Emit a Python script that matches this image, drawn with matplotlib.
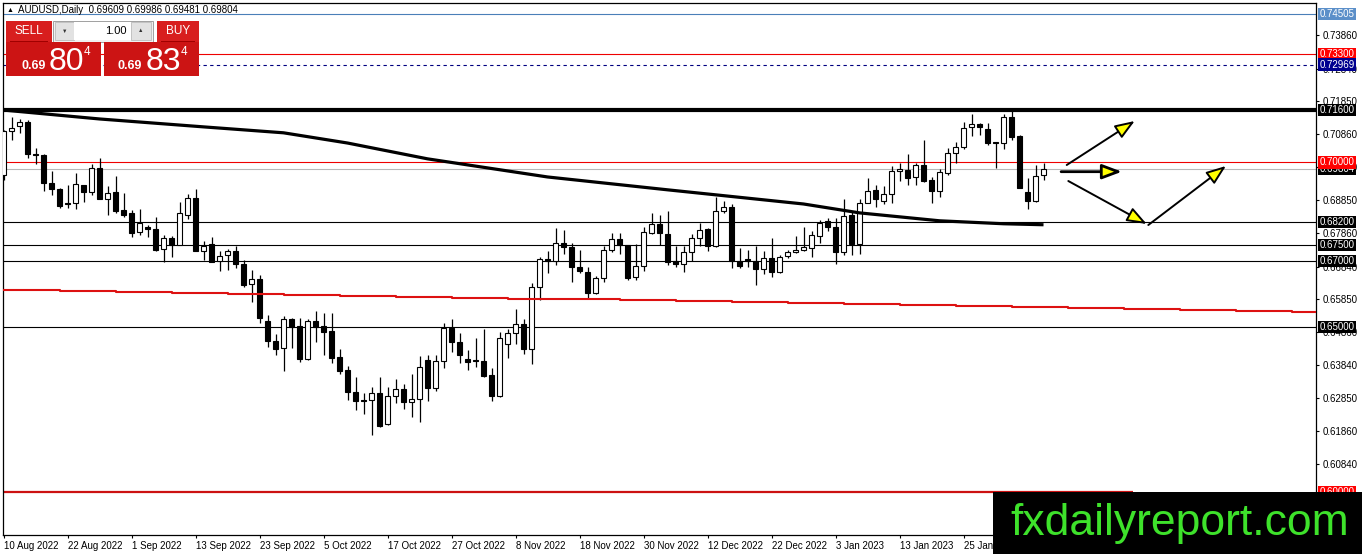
import matplotlib
matplotlib.use('Agg')
import matplotlib.pyplot as plt
from matplotlib.patches import Rectangle
import numpy as np

plt.rcParams['font.family'] = ['Liberation Sans', 'DejaVu Sans']

# daily AUDUSD candles (first bar = 10 Aug 2022)
opens = [0.6962, 0.7094, 0.7111, 0.7122, 0.7025, 0.7023, 0.6937, 0.6920, 0.6876, 0.6876,
         0.6932, 0.6909, 0.6983, 0.6890, 0.6910, 0.6856, 0.6846, 0.6788, 0.6805, 0.6797,
         0.6737, 0.6772, 0.6750, 0.6841, 0.6892, 0.6730, 0.6752, 0.6702, 0.6719, 0.6730,
         0.6692, 0.6631, 0.6646, 0.6519, 0.6457, 0.6437, 0.6526, 0.6504, 0.6404, 0.6519,
         0.6504, 0.6489, 0.6409, 0.6371, 0.6303, 0.6279, 0.6278, 0.6300, 0.6207, 0.6290,
         0.6313, 0.6272, 0.6282, 0.6401, 0.6315, 0.6398, 0.6499, 0.6455, 0.6403, 0.6399,
         0.6398, 0.6356, 0.6290, 0.6449, 0.6482, 0.6509, 0.6434, 0.6622, 0.6706, 0.6702,
         0.6755, 0.6743, 0.6682, 0.6667, 0.6605, 0.6649, 0.6733, 0.6767, 0.6750, 0.6651,
         0.6687, 0.6787, 0.6814, 0.6782, 0.6701, 0.6691, 0.6728, 0.6770, 0.6797, 0.6747,
         0.6854, 0.6864, 0.6702, 0.6707, 0.6702, 0.6676, 0.6710, 0.6669, 0.6717, 0.6728,
         0.6733, 0.6740, 0.6777, 0.6821, 0.6804, 0.6727, 0.6841, 0.6753, 0.6878, 0.6915,
         0.6884, 0.6904, 0.6974, 0.6977, 0.6955, 0.6993, 0.6947, 0.6912, 0.6967, 0.7030,
         0.7048, 0.7107, 0.7116, 0.7101, 0.7062, 0.7060, 0.7137, 0.7081, 0.6910, 0.6884,
         0.69609]
highs = [0.7097, 0.7139, 0.7131, 0.7129, 0.7043, 0.7025, 0.6974, 0.6922, 0.6932, 0.6967,
         0.6932, 0.6996, 0.7013, 0.6929, 0.6959, 0.6907, 0.6856, 0.6858, 0.6811, 0.6834,
         0.6780, 0.6777, 0.6881, 0.6905, 0.6919, 0.6763, 0.6773, 0.6730, 0.6738, 0.6748,
         0.6704, 0.6674, 0.6659, 0.6537, 0.6479, 0.6535, 0.6528, 0.6528, 0.6525, 0.6550,
         0.6543, 0.6543, 0.6434, 0.6383, 0.6349, 0.6300, 0.6318, 0.6349, 0.6320, 0.6344,
         0.6328, 0.6358, 0.6413, 0.6416, 0.6416, 0.6514, 0.6525, 0.6482, 0.6431, 0.6467,
         0.6494, 0.6376, 0.6487, 0.6494, 0.6555, 0.6525, 0.6634, 0.6714, 0.6730, 0.6801,
         0.6795, 0.6755, 0.6735, 0.6684, 0.6656, 0.6745, 0.6785, 0.6785, 0.6750, 0.6753,
         0.6805, 0.6848, 0.6841, 0.6854, 0.6748, 0.6747, 0.6783, 0.6816, 0.6802, 0.6895,
         0.6884, 0.6874, 0.6740, 0.6735, 0.6747, 0.6730, 0.6770, 0.6720, 0.6735, 0.6778,
         0.6805, 0.6793, 0.6826, 0.6831, 0.6831, 0.6889, 0.6851, 0.6889, 0.6952, 0.6932,
         0.6929, 0.6989, 0.6999, 0.7025, 0.6999, 0.7068, 0.6955, 0.6979, 0.7045, 0.7061,
         0.7124, 0.7146, 0.7121, 0.7121, 0.7063, 0.7147, 0.7159, 0.7084, 0.6952, 0.6993,
         0.69986]
lows = [0.6947, 0.7068, 0.7089, 0.7013, 0.6995, 0.6912, 0.6902, 0.6861, 0.6863, 0.6858,
        0.6881, 0.6902, 0.6890, 0.6841, 0.6848, 0.6836, 0.6773, 0.6780, 0.6775, 0.6730,
        0.6699, 0.6714, 0.6750, 0.6828, 0.6730, 0.6704, 0.6699, 0.6672, 0.6674, 0.6679,
        0.6623, 0.6576, 0.6514, 0.6440, 0.6416, 0.6366, 0.6437, 0.6393, 0.6401, 0.6454,
        0.6416, 0.6391, 0.6358, 0.6278, 0.6249, 0.6237, 0.6172, 0.6197, 0.6204, 0.6270,
        0.6252, 0.6229, 0.6211, 0.6275, 0.6305, 0.6376, 0.6426, 0.6391, 0.6369, 0.6378,
        0.6350, 0.6275, 0.6288, 0.6408, 0.6449, 0.6418, 0.6388, 0.6583, 0.6666, 0.6689,
        0.6723, 0.6636, 0.6664, 0.6585, 0.6600, 0.6636, 0.6727, 0.6723, 0.6644, 0.6644,
        0.6672, 0.6783, 0.6750, 0.6689, 0.6684, 0.6669, 0.6702, 0.6747, 0.6730, 0.6743,
        0.6846, 0.6679, 0.6679, 0.6684, 0.6629, 0.6661, 0.6652, 0.6664, 0.6711, 0.6725,
        0.6730, 0.6713, 0.6757, 0.6793, 0.6691, 0.6720, 0.6720, 0.6723, 0.6876, 0.6864,
        0.6874, 0.6878, 0.6944, 0.6932, 0.6932, 0.6940, 0.6876, 0.6896, 0.6962, 0.6998,
        0.7040, 0.7081, 0.7083, 0.7053, 0.6984, 0.7040, 0.7068, 0.6922, 0.6858, 0.6881,
        0.69481]
closes = [0.7094, 0.7106, 0.7124, 0.7025, 0.7023, 0.6937, 0.6919, 0.6868, 0.6874, 0.6934,
          0.6909, 0.6983, 0.6890, 0.6907, 0.6854, 0.6841, 0.6787, 0.6816, 0.6797, 0.6735,
          0.6772, 0.6750, 0.6846, 0.6892, 0.6730, 0.6748, 0.6699, 0.6717, 0.6730, 0.6691,
          0.6629, 0.6646, 0.6528, 0.6457, 0.6434, 0.6525, 0.6502, 0.6404, 0.6519, 0.6502,
          0.6487, 0.6408, 0.6366, 0.6302, 0.6275, 0.6277, 0.6300, 0.6199, 0.6292, 0.6312,
          0.6272, 0.6282, 0.6379, 0.6315, 0.6398, 0.6497, 0.6455, 0.6416, 0.6396, 0.6398,
          0.6353, 0.6290, 0.6467, 0.6484, 0.6509, 0.6434, 0.6622, 0.6707, 0.6702, 0.6755,
          0.6743, 0.6682, 0.6672, 0.6605, 0.6649, 0.6735, 0.6767, 0.6750, 0.6649, 0.6687,
          0.6788, 0.6814, 0.6787, 0.6699, 0.6691, 0.6728, 0.6770, 0.6795, 0.6747, 0.6854,
          0.6864, 0.6701, 0.6687, 0.6701, 0.6676, 0.6710, 0.6669, 0.6714, 0.6728, 0.6735,
          0.6742, 0.6780, 0.6816, 0.6804, 0.6727, 0.6839, 0.6753, 0.6876, 0.6912, 0.6889,
          0.6904, 0.6974, 0.6980, 0.6954, 0.6993, 0.6945, 0.6912, 0.6972, 0.7030, 0.7048,
          0.7106, 0.7116, 0.7107, 0.7060, 0.7060, 0.7137, 0.7078, 0.6922, 0.6884, 0.6960,
          0.69804]

date_labels = ['10 Aug 2022', '22 Aug 2022', '1 Sep 2022', '13 Sep 2022', '23 Sep 2022',
               '5 Oct 2022', '17 Oct 2022', '27 Oct 2022', '8 Nov 2022', '18 Nov 2022',
               '30 Nov 2022', '12 Dec 2022', '22 Dec 2022', '3 Jan 2023', '13 Jan 2023',
               '25 Jan 2023']

price_ticks = [0.73860, 0.72840, 0.71850, 0.70860, 0.69850, 0.68850, 0.67860, 0.66840,
               0.65850, 0.64860, 0.63840, 0.62850, 0.61860, 0.60840]

# slow moving average (black) and long one (red), sampled along the chart
ma_black_idx = [0, 12, 25, 35, 43, 53, 68, 83, 100, 107, 117, 125, 130]
ma_black_val = [0.7159, 0.7132, 0.7108, 0.7090, 0.7059, 0.7011, 0.6956, 0.6917, 0.6874,
                0.6847, 0.6823, 0.6814, 0.6811]
ma_red_idx = [0, 7, 14, 21, 28, 35, 42, 49, 56, 63, 70, 77, 84, 91, 98, 105, 112, 119,
              126, 133, 140, 147, 154, 161, 165]
ma_red_val = [0.6613, 0.6610, 0.6607, 0.6604, 0.6601, 0.6598, 0.6595, 0.6592, 0.6589,
              0.6587, 0.6585, 0.6582, 0.6579, 0.6576, 0.6573, 0.6570, 0.6567, 0.6564,
              0.6562, 0.6559, 0.6556, 0.6553, 0.6550, 0.6547, 0.6546]

# horizontal levels
levels = [0.74505, 0.73300, 0.72969, 0.71600, 0.70000, 0.69804, 0.68200, 0.67500, 0.67000, 0.65000]
level_color = ['#4a7fb8', '#ee0000', '#000080', 'black', '#ee0000', '#b8b8b8', 'black', 'black', 'black', 'black']
level_lw = [0.8, 0.8, 0.8, 3.0, 0.8, 0.8, 0.8, 0.8, 0.8, 0.8]
level_ls = ['-', '-', (0, (3, 3)), '-', '-', '-', '-', '-', '-', '-']
label_bg = ['#5b8fc9', '#ff0000', '#000090', 'black', '#ff0000', 'black', 'black', 'black', 'black', 'black']
label_z = [20, 20, 20, 20, 22, 21, 20, 20, 20, 20]
bottom_level = 0.60000
bottom_level_end = 141.2

# scenario arrows (bar index, price)
arrows = [((132.9, 0.69923), (141.4, 0.71258)),
          ((132.2, 0.69720), (139.8, 0.69720)),
          ((133.1, 0.69437), (142.9, 0.68133)),
          ((143.1, 0.68102), (152.8, 0.69893))]

bid = 0.69804
ask = 0.69834

W, H = 1362, 554
fig = plt.figure(figsize=(W / 100, H / 100), dpi=100)
ax = fig.add_axes([3 / W, 19 / H, 1313 / W, 532 / H])
ax.set_xlim(-0.0625, 164.06)
ax.set_ylim(0.58695, 0.74839)

o = np.array(opens); h = np.array(highs); l = np.array(lows); c = np.array(closes)
x = np.arange(len(o))
up = c >= o
ax.vlines(x, l, h, color='black', lw=0.9, zorder=3)
body_low = np.minimum(o, c)
body_h = np.maximum(np.abs(c - o), 0.00022)
ax.bar(x, body_h, bottom=body_low, width=0.6, color=np.where(up, 'white', 'black'),
       edgecolor='black', linewidth=0.8, zorder=4)

for v, col, lw, ls in zip(levels, level_color, level_lw, level_ls):
    ax.axhline(v, color=col, lw=lw, ls=ls, zorder=2)
ax.hlines(bottom_level, -1, bottom_level_end, color='#cc1111', lw=1.6, zorder=2)

ax.plot(ma_black_idx, ma_black_val, color='black', lw=2.3, zorder=5, solid_capstyle='butt')
ax.plot(ma_red_idx, ma_red_val, color='#dd1111', lw=1.5, zorder=5, drawstyle='steps-post')

for i, (a, b) in enumerate(arrows):
    ax.annotate('', xy=b, xytext=a,
                arrowprops=dict(arrowstyle='-|>,head_length=1.2,head_width=0.45', mutation_scale=10,
                                fc='#ffff00', ec='black', lw=2.0 if i == 1 else 1.4,
                                shrinkA=0, shrinkB=0), zorder=6)

# axes styling, MT4 look
for s in ax.spines.values():
    s.set_color('black')
    s.set_linewidth(0.9)
ax.yaxis.tick_right()
ax.set_yticks(price_ticks)
ax.set_yticklabels(['%.5f' % v for v in price_ticks], fontsize=7)
ax.tick_params(axis='y', length=2.5, width=0.8, pad=2.5, colors='black')
ax.set_xticks(np.arange(len(date_labels)) * 8)
ax.set_xticklabels(date_labels, fontsize=7, ha='left')
ax.tick_params(axis='x', length=2.5, width=0.8, pad=1.5)

tr = ax.get_yaxis_transform()
for v, bg, z in zip(levels, label_bg, label_z):
    ax.text(1.0027, v, '%.5f' % v, transform=tr, color='white', fontsize=7, va='center', ha='left',
            bbox=dict(boxstyle='square,pad=0.12', fc=bg, ec='none'), clip_on=False, zorder=z)
ax.text(1.0027, bottom_level, '%.5f' % bottom_level, transform=tr, color='white', fontsize=7,
        va='center', ha='left', bbox=dict(boxstyle='square,pad=0.12', fc='#ff0000', ec='none'),
        clip_on=False, zorder=20)


def box(x0, y0, x1, y1, z=10, **kw):
    r = Rectangle((x0 / W, 1 - y1 / H), (x1 - x0) / W, (y1 - y0) / H,
                  transform=fig.transFigure, zorder=z, **kw)
    fig.add_artist(r)


def txt(px, py, s, z=11, **kw):
    fig.text(px / W, 1 - py / H, s, zorder=z, **kw)


# header
txt(7, 10, '\u25b2', fontsize=5, va='center')
txt(18, 10, 'AUDUSD,Daily  %.5f %.5f %.5f %.5f' % (opens[-1], highs[-1], lows[-1], closes[-1]),
    fontsize=7, va='center')

# one-click trading panel
box(6, 20.5, 52, 42, fc='#d81e1e', ec='none')
box(53, 20.5, 153, 41.5, fc='#f0f0f0', ec='#a0a0a0', lw=0.7)
box(55, 22, 74, 40, fc='#e2e2e2', ec='#b4b4b4', lw=0.5)
box(74, 22, 131, 40, fc='white', ec='none')
box(131, 22, 151, 40, fc='#e2e2e2', ec='#b4b4b4', lw=0.5)
box(157, 20.5, 199, 42, fc='#d81e1e', ec='none')
box(6, 42, 101, 76, fc='#cc1414', ec='none')
box(104, 42, 199, 76, fc='#cc1414', ec='none')
box(10, 41, 48, 42, fc='#a00000', ec='none', z=11)
box(161, 41, 195, 42, fc='#a00000', ec='none', z=11)
txt(29, 31, 'SELL', color='white', fontsize=8.5, ha='center', va='center')
txt(178, 31, 'BUY', color='white', fontsize=8.5, ha='center', va='center')
txt(127, 31, '1.00', color='black', fontsize=8, ha='right', va='center')
txt(64.5, 31, '\u25bc', color='#333333', fontsize=4, ha='center', va='center')
txt(141, 31, '\u25b2', color='#333333', fontsize=4, ha='center', va='center')
for s, x0 in [('%.5f' % bid, 21), ('%.5f' % ask, 118)]:
    txt(x0, 69, s[:4], color='white', fontsize=9, fontweight='bold', va='baseline')
    txt(x0 + 28, 69.5, s[4:6], color='white', fontsize=23, va='baseline')
    txt(x0 + 63, 55, s[6], color='white', fontsize=8.5, va='baseline')

# watermark
box(993, 492, 1362, 554, fc='black', ec='none', z=12)
txt(1010, 535, 'fxdailyreport.com', z=13, color='#3ee22b', fontsize=32, va='baseline', ha='left')

fig.savefig('out.png', dpi=100, facecolor='white')
